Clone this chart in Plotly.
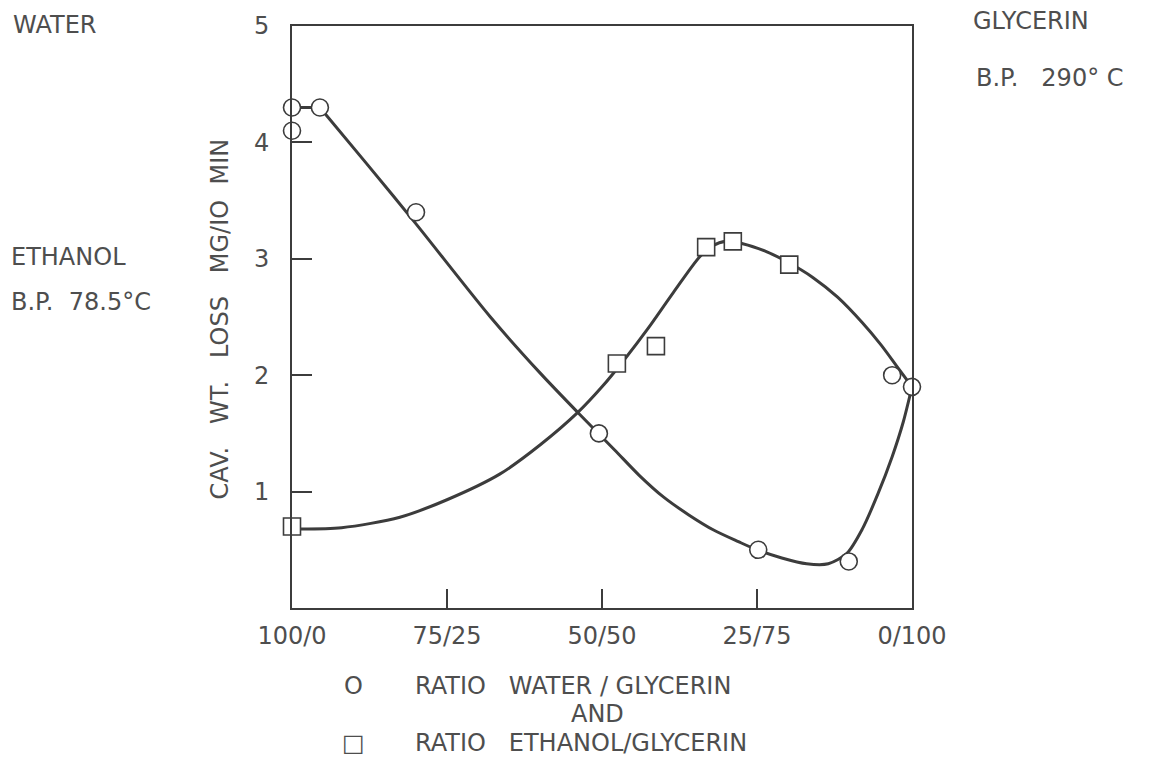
import plotly.graph_objects as go

# ---- data ----
# x = glycerin content in % (0 -> 100/0, 100 -> 0/100), y = cav. wt. loss mg/10 min
water_x = [0, 0, 4.5, 20, 49.5, 75.2, 89.8, 96.8, 100]
water_y = [4.3, 4.1, 4.3, 3.4, 1.5, 0.5, 0.4, 2.0, 1.9]

ethanol_x = [0, 52.4, 58.7, 66.8, 71.1, 80.2]
ethanol_y = [0.7, 2.1, 2.25, 3.1, 3.15, 2.95]

# hand-drawn fitted curves (knots)
water_flat_x = [0, 4.5]
water_flat_y = [4.3, 4.3]
water_curve_x = [4.5, 12, 20, 32, 40, 46.1, 52, 56, 60, 64, 68, 72, 75, 79, 83,
                 86.5, 89.5, 92, 94.5, 96.8, 98.6, 100]
water_curve_y = [4.3, 3.82, 3.3, 2.5, 2.02, 1.68, 1.36, 1.14, 0.95, 0.8, 0.67, 0.57, 0.5, 0.43, 0.38,
                 0.38, 0.47, 0.68, 0.98, 1.3, 1.6, 1.9]

ethanol_curve_x = [0, 8, 17.4, 25, 33.5, 40, 46.1, 50, 53.4, 57.4, 61.5, 65.8, 67.8, 70,
                   72.7, 76.6, 80, 84, 88, 92, 95, 97.5, 100]
ethanol_curve_y = [0.68, 0.69, 0.78, 0.93, 1.15, 1.4, 1.68, 1.9, 2.12, 2.4, 2.71, 3.02, 3.11, 3.15,
                   3.13, 3.06, 2.97, 2.84, 2.67, 2.45, 2.26, 2.08, 1.9]

x_tickvals = [0, 25, 50, 75, 100]
x_ticktext = ["100/0", "75/25", "50/50", "25/75", "0/100"]
y_tickvals = [1, 2, 3, 4, 5]
y_ticktext = ["1", "2", "3", "4", "5"]

INK = "#3c3c3c"
TXT = "#4e4e4e"
FONT = "DejaVu Sans"
FS = 24

fig = go.Figure()

line_style = dict(color=INK, width=3, shape="spline", smoothing=0.8)
fig.add_trace(go.Scatter(x=water_flat_x, y=water_flat_y, mode="lines",
                         line=dict(color=INK, width=3),
                         hoverinfo="skip", showlegend=False, cliponaxis=False))
fig.add_trace(go.Scatter(x=water_curve_x, y=water_curve_y, mode="lines", line=line_style,
                         hoverinfo="skip", showlegend=False, cliponaxis=False))
fig.add_trace(go.Scatter(x=ethanol_curve_x, y=ethanol_curve_y, mode="lines", line=line_style,
                         hoverinfo="skip", showlegend=False, cliponaxis=False))

fig.add_trace(go.Scatter(x=water_x, y=water_y, mode="markers", name="water/glycerin",
                         marker=dict(symbol="circle", size=17, color="white",
                                     line=dict(color=INK, width=1.6)),
                         showlegend=False, cliponaxis=False))
fig.add_trace(go.Scatter(x=ethanol_x, y=ethanol_y, mode="markers", name="ethanol/glycerin",
                         marker=dict(symbol="square", size=17, color="white",
                                     line=dict(color=INK, width=1.6)),
                         showlegend=False, cliponaxis=False))

L, R, T, B = 292, 912, 23, 608
W, H = R - L, B - T


def px(xp):
    return (xp - L) / W


def py(yp):
    return (B - yp) / H


def ann(text, x, y, xanchor="left", angle=0):
    fig.add_annotation(text=text, x=px(x), y=py(y), xref="paper", yref="paper",
                       xanchor=xanchor, yanchor="middle", showarrow=False,
                       textangle=angle, font=dict(family=FONT, size=FS, color=TXT))


nb = "\u00a0"
ann("WATER", 11, 22)
ann("ETHANOL", 9, 255)
ann("B.P." + nb * 2 + "78.5°C", 9, 300)
ann("GLYCERIN", 971, 18)
ann("B.P." + nb * 3 + "290°" + nb + "C", 974, 75)
ann("CAV." + nb * 3 + "WT." + nb * 3 + "LOSS" + nb * 3 + "MG/IO" + nb * 2 + "MIN", 220, 318, "center", -90)
ann("O", 353, 686, "center")
ann("RATIO" + nb * 3 + "WATER" + nb + "/" + nb + "GLYCERIN", 413, 686)
ann("AND", 597, 715, "center")
ann("□", 353, 744, "center")
ann("RATIO" + nb * 3 + "ETHANOL/GLYCERIN", 413, 744)

fig.update_xaxes(range=[0, 100], tickvals=x_tickvals, ticktext=x_ticktext,
                 ticks="inside", ticklen=19, tickwidth=2, tickcolor=INK,
                 showline=True, linecolor=INK, linewidth=2, mirror=True,
                 showgrid=False, zeroline=False, ticklabelstandoff=5,
                 tickfont=dict(family=FONT, size=FS, color=TXT))
fig.update_yaxes(range=[0, 5], tickvals=y_tickvals, ticktext=y_ticktext,
                 ticks="inside", ticklen=20, tickwidth=2, tickcolor=INK,
                 showline=True, linecolor=INK, linewidth=2, mirror=True,
                 showgrid=False, zeroline=False, ticklabelstandoff=16,
                 tickfont=dict(family=FONT, size=FS, color=TXT))

fig.update_layout(width=1164, height=758, autosize=False,
                  margin=dict(l=L, r=1164 - R, t=T, b=758 - B),
                  paper_bgcolor="white", plot_bgcolor="white",
                  font=dict(family=FONT, color=TXT))

fig.write_html("out.html")
